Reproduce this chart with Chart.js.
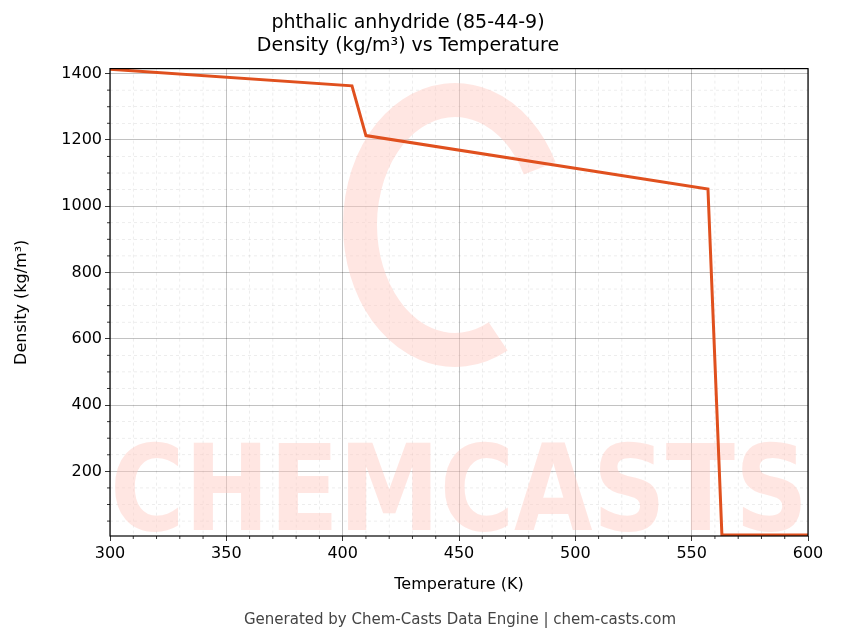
<!DOCTYPE html>
<html>
<head>
<meta charset="utf-8">
<script src="https://cdn.jsdelivr.net/npm/chart.js@4/dist/chart.umd.min.js"></script>
<style>
  html, body { margin: 0; padding: 0; background: #fff; }
  #wrap { width: 843px; height: 644px; }
</style>
</head>
<body>
<div id="wrap"><canvas id="c"></canvas></div>
<script>
// Density readings (K, kg/m³)
const temps = [300, 404, 410, 557, 563, 600];
const density = [1413, 1363, 1213, 1052, 8, 8];
const xTicks = [300, 350, 400, 450, 500, 550, 600];
const yTicks = [200, 400, 600, 800, 1000, 1200, 1400];
const Y_MIN = 5, Y_MAX = 1415;

const font = 'DejaVu Sans, sans-serif';

// watermark, minor grid, frame and footer
const decor = {
  id: 'decor',
  beforeDatasetsDraw(chart) {
    const { ctx, chartArea: a, scales: { x, y } } = chart;
    ctx.save();
    ctx.strokeStyle = 'rgba(0,0,0,0.12)';
    ctx.lineWidth = 0.6;
    ctx.setLineDash([3, 3]);
    for (let v = 300; v <= 600; v += 10) {
      if (v % 50 === 0) continue;
      const px = x.getPixelForValue(v);
      ctx.beginPath(); ctx.moveTo(px, a.top); ctx.lineTo(px, a.bottom); ctx.stroke();
    }
    for (let v = 50; v <= 1400; v += 50) {
      if (v % 200 === 0) continue;
      const py = y.getPixelForValue(v);
      ctx.beginPath(); ctx.moveTo(a.left, py); ctx.lineTo(a.right, py); ctx.stroke();
    }
    ctx.setLineDash([]);
    ctx.beginPath();
    ctx.rect(a.left, a.top, a.right - a.left, a.bottom - a.top);
    ctx.clip();
    ctx.fillStyle = 'rgba(255,200,190,0.45)';
    ctx.font = 'bold 120px ' + font;
    ctx.textAlign = 'left';
    ctx.textBaseline = 'alphabetic';
    const w = ctx.measureText('CHEMCASTS').width;
    ctx.translate(a.left, 530);
    ctx.scale((a.right - a.left) / w, 1);
    ctx.fillText('CHEMCASTS', 0, 0);
    ctx.setTransform(1, 0, 0, 1, 0, 0);
    ctx.scale(chart.currentDevicePixelRatio, chart.currentDevicePixelRatio);
    ctx.strokeStyle = 'rgba(255,200,190,0.45)';
    ctx.lineWidth = 34;
    ctx.beginPath();
    ctx.ellipse(455, 225, 95, 125, 0, Math.PI * 0.35, Math.PI * 1.85);
    ctx.stroke();
    ctx.restore();
  },
  afterDraw(chart) {
    const { ctx, chartArea: a, scales: { x, y } } = chart;
    ctx.save();
    ctx.strokeStyle = '#000';
    ctx.lineWidth = 1.2;
    ctx.strokeRect(a.left, a.top, a.right - a.left, a.bottom - a.top);
    ctx.lineWidth = 0.8;
    for (let v = 310; v < 600; v += 10) {
      if (v % 50 === 0) continue;
      const px = x.getPixelForValue(v);
      ctx.beginPath(); ctx.moveTo(px, a.bottom); ctx.lineTo(px, a.bottom + 3); ctx.stroke();
    }
    for (let v = 50; v <= 1400; v += 50) {
      if (v % 200 === 0) continue;
      const py = y.getPixelForValue(v);
      ctx.beginPath(); ctx.moveTo(a.left, py); ctx.lineTo(a.left - 3, py); ctx.stroke();
    }
    ctx.fillStyle = '#444';
    ctx.font = '15px ' + font;
    ctx.textAlign = 'center';
    ctx.fillText('Generated by Chem-Casts Data Engine | chem-casts.com', 460, 624);
    ctx.restore();
  }
};

new Chart(document.getElementById('c'), {
  type: 'line',
  data: {
    datasets: [{
      data: temps.map((t, i) => ({ x: t, y: density[i] })),
      borderColor: '#e0501e',
      borderWidth: 3,
      pointRadius: 0,
      tension: 0,
      fill: false,
    }],
  },
  options: {
    responsive: true,
    maintainAspectRatio: false,
    animation: false,
    layout: { padding: { left: 8, right: 35, top: 0, bottom: 46 } },
    scales: {
      x: {
        type: 'linear', min: 300, max: 600,
        afterBuildTicks: (s) => { s.ticks = xTicks.map((v) => ({ value: v })); },
        afterFit: (s) => { s.height = 62; },
        ticks: { color: '#000', font: { family: font, size: 16 }, maxRotation: 0, padding: 3, callback: (v) => String(v) },
        grid: { color: 'rgba(0,0,0,0.3)', lineWidth: 0.8, tickLength: 5, tickColor: '#000' },
        border: { display: false },
        title: { display: true, text: 'Temperature (K)', color: '#000', font: { family: font, size: 16 }, padding: { top: 2 } },
      },
      y: {
        type: 'linear', min: Y_MIN, max: Y_MAX,
        afterBuildTicks: (s) => { s.ticks = yTicks.map((v) => ({ value: v })); },
        afterFit: (s) => { s.width = 102; },
        ticks: { color: '#000', font: { family: font, size: 16 }, padding: 3, callback: (v) => String(v) },
        grid: { color: 'rgba(0,0,0,0.3)', lineWidth: 0.8, tickLength: 5, tickColor: '#000' },
        border: { display: false },
        title: { display: true, text: 'Density (kg/m³)', color: '#000', font: { family: font, size: 16 } },
      },
    },
    plugins: {
      legend: { display: false },
      tooltip: { enabled: false },
      title: {
        display: true,
        text: ['phthalic anhydride (85-44-9)', 'Density (kg/m³) vs Temperature'],
        color: '#000',
        font: { family: font, size: 19, weight: 'normal' },
        lineHeight: 1.2,
        padding: { top: 12, bottom: 11 },
      },
    },
  },
  plugins: [decor],
});
</script>
</body>
</html>
